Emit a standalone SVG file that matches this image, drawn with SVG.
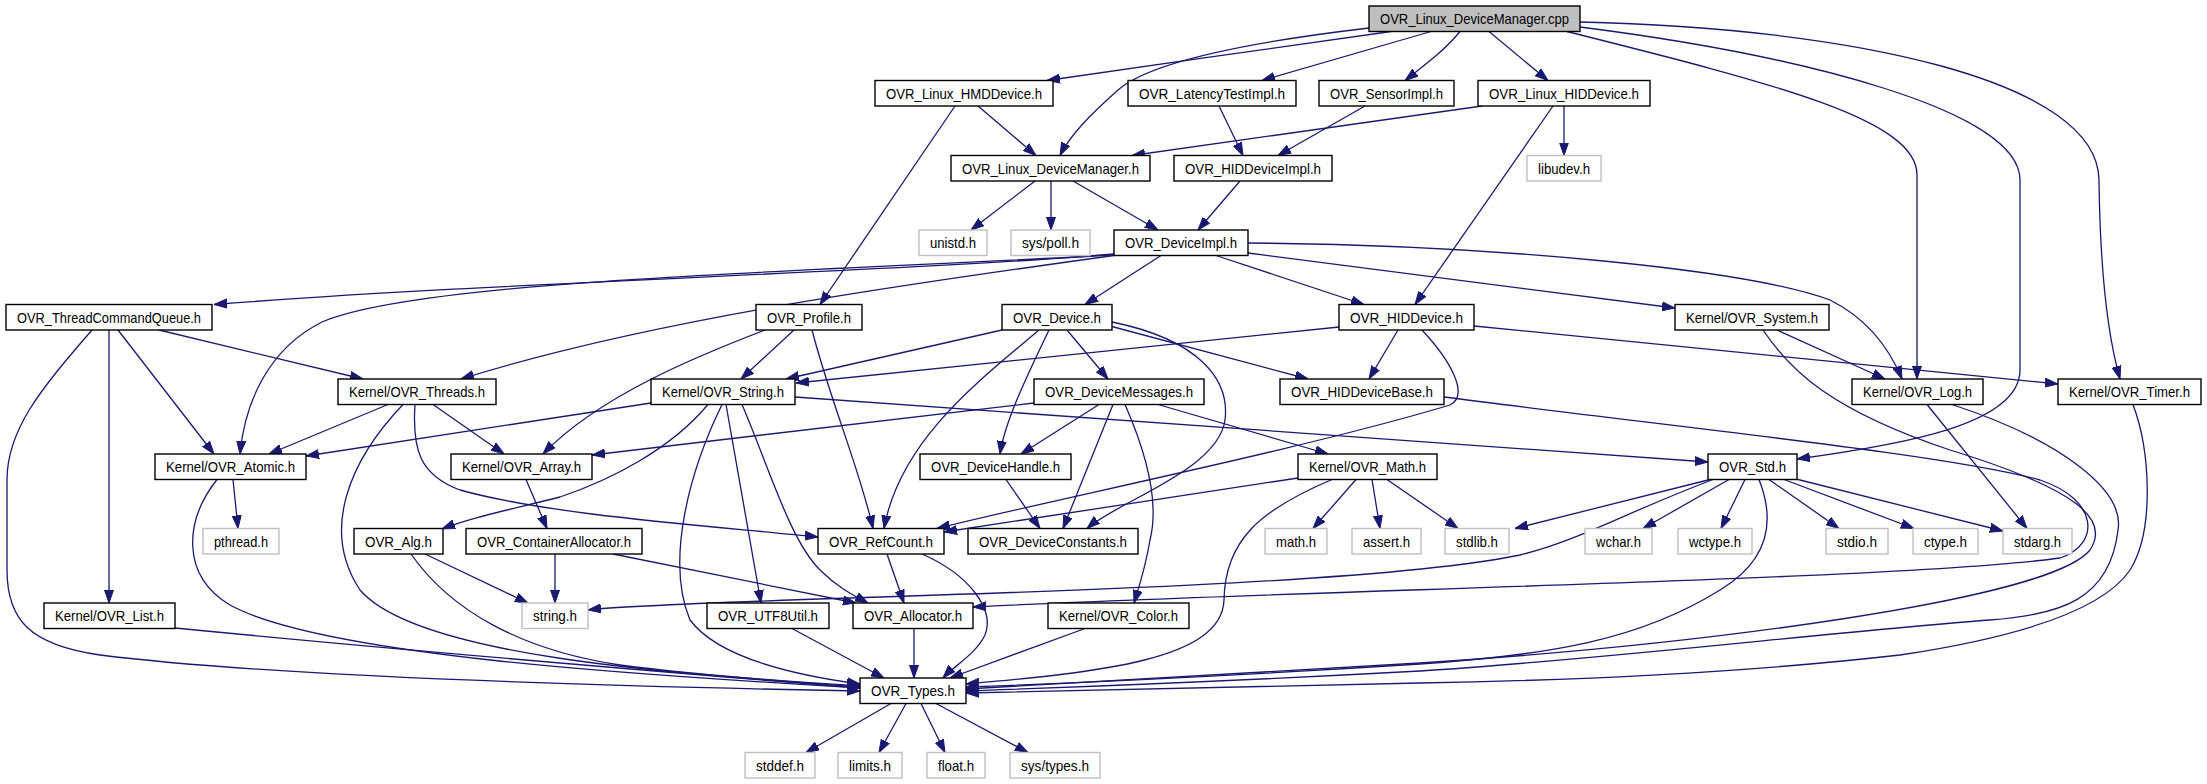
<svg xmlns="http://www.w3.org/2000/svg" width="2207" height="784" viewBox="0 0 2207 784">
<style>
.n rect{fill:#fff;stroke:#000;stroke-width:1.4}
.g rect{fill:#fff;stroke:#bfbfbf;stroke-width:1.4}
.r rect{fill:#bfbfbf;stroke:#000;stroke-width:1.4}
text{font-family:"Liberation Sans",Arial,sans-serif;font-size:15px;fill:#000;text-anchor:middle}
#edges path{fill:none;stroke:#191970;stroke-width:1.3;marker-end:url(#a)}
</style>
<defs>
<marker id="a" markerUnits="userSpaceOnUse" markerWidth="13" markerHeight="10" refX="13" refY="5" orient="auto" viewBox="0 0 13 10"><path d="M0,0.5 L13,5 L0,9.5 z" fill="#191970" stroke="#191970" stroke-width="1"/></marker>
</defs>
<rect width="2207" height="784" fill="#fff"/>
<g id="edges">
<path d="M1391,31.5 C1300,45 1150,65 1047,80.5"/>
<path d="M1369,28 C1250,42 1150,62 1118,90 C1090,115 1070,135 1060,155.5"/>
<path d="M1431,31.5 L1262,80.5"/>
<path d="M1460,31.5 C1445,50 1425,65 1405,80.5"/>
<path d="M1489,31.5 L1548,80.5"/>
<path d="M1567,31.5 C1780,85 1917,120 1917,175 L1917,379"/>
<path d="M1580,27 C1800,55 2020,110 2020,180 L2020,370 C2020,425 1900,445 1797,459"/>
<path d="M1580,22 C1850,28 2098,80 2099,180 C2100,260 2106,330 2120,379"/>
<path d="M978,106 L1036,155.5"/>
<path d="M955,106 L820,304.5"/>
<path d="M1219,106 L1243,155.5"/>
<path d="M1365,106 L1278,155.5"/>
<path d="M1482,106 L1132,155.5"/>
<path d="M1564,106 L1564,155.5"/>
<path d="M1553,106 L1415,304.5"/>
<path d="M1035,181 L971,230"/>
<path d="M1051,181 L1051,230"/>
<path d="M1073,181 L1158,230"/>
<path d="M1240,181 L1198,230"/>
<path d="M1114,254 C900,272 500,282 214,304.5"/>
<path d="M1114,255 C800,272 420,280 322,322 C270,348 245,400 240,454"/>
<path d="M1114,255.5 C900,285 650,320 461,379"/>
<path d="M1161,255.5 L1085,304.5"/>
<path d="M1216,255.5 L1364,304.5"/>
<path d="M1248,253 L1675,308"/>
<path d="M1248,243 C1500,245 1750,270 1830,300 C1870,320 1890,350 1902,379"/>
<path d="M794,330 L741,379"/>
<path d="M765,330 C700,355 600,395 543,454"/>
<path d="M812,330 C830,400 860,470 873,528.5"/>
<path d="M1002,330 L786,379"/>
<path d="M1067,330 L1108,379"/>
<path d="M1049,330 C1030,370 1005,420 1000,454"/>
<path d="M1039,330 C980,380 900,440 884,528.5"/>
<path d="M1110,326 L1308,379"/>
<path d="M1112,322 C1200,340 1230,380 1225,420 C1218,470 1120,500 1087,528.5"/>
<path d="M1339,327 L796,383"/>
<path d="M1398,330 L1369,379"/>
<path d="M1422,330 C1450,360 1470,395 1450,405 C1300,450 1050,500 937,528.5"/>
<path d="M1474,326 L2058,384"/>
<path d="M1777,330 L1885,379"/>
<path d="M1763,330 C1790,370 1830,410 1950,450 C2080,490 2110,520 2090,550 C2050,600 1700,645 1420,663 C1200,677 1050,685 966,689"/>
<path d="M1927,404.5 L2027,528.5"/>
<path d="M1952,404.5 C2060,440 2125,490 2118,530 C2110,600 2060,615 1990,620 C1850,630 1600,660 1420,671 C1200,683 1050,688 966,691"/>
<path d="M2133,404.5 C2150,450 2155,530 2130,570 C2100,615 2000,640 1900,655 C1750,672 1600,680 1420,683 C1200,688 1050,691 966,693"/>
<path d="M1710,479.5 L1515,528.5"/>
<path d="M1713,479.5 C1620,515 1580,540 1520,555 C1400,580 1100,590 850,598 C700,603 620,606 588,610"/>
<path d="M1729,479.5 L1643,528.5"/>
<path d="M1745,479.5 L1721,528.5"/>
<path d="M1759,479.5 C1775,520 1770,560 1720,590 C1640,640 1550,655 1420,664 C1200,678 1050,684 966,687"/>
<path d="M1769,479.5 L1839,528.5"/>
<path d="M1784,479.5 L1914,528.5"/>
<path d="M1796,479 L2003,531"/>
<path d="M1444,397 C1700,430 1950,455 2040,480 C2100,500 2100,545 2060,558 C1900,580 1300,590 973,607"/>
<path d="M1298,478 L944,532"/>
<path d="M1332,479.5 C1260,510 1225,540 1224,600 C1222,660 1100,672 966,684"/>
<path d="M1356,479.5 L1313,528.5"/>
<path d="M1372,479.5 L1380,528.5"/>
<path d="M1387,479.5 L1458,528.5"/>
<path d="M1034,403 L592,455"/>
<path d="M1099,404.5 L1021,454"/>
<path d="M1113,404.5 L1063,528.5"/>
<path d="M1125,404.5 C1145,450 1160,500 1150,540 C1145,570 1138,590 1134,603"/>
<path d="M1158,404.5 L1328,454"/>
<path d="M1006,479.5 L1040,528.5"/>
<path d="M651,403 L306,456"/>
<path d="M708,404.5 C670,450 610,480 560,497 C500,512 470,518 442,529"/>
<path d="M722,404.5 C690,470 665,560 690,620 C720,660 800,676 860,684"/>
<path d="M726,404.5 L761,603"/>
<path d="M742,404.5 C770,470 790,540 820,570 C838,588 855,596 868,603"/>
<path d="M795,397 L1708,462"/>
<path d="M388,404.5 L269,454"/>
<path d="M433,404.5 L504,454"/>
<path d="M403,404.5 C350,460 320,530 360,590 C420,660 700,675 860,686"/>
<path d="M415,404.5 C412,450 420,475 460,490 C550,515 700,525 818,537"/>
<path d="M613,554 L856,603"/>
<path d="M555,554 L555,603"/>
<path d="M526,479.5 L547,528.5"/>
<path d="M425,554 L528,603"/>
<path d="M411,554 C450,610 520,650 620,665 C720,678 800,682 860,687"/>
<path d="M233,479.5 L238,528.5"/>
<path d="M217,479.5 C185,520 180,575 230,605 C330,660 700,678 860,688"/>
<path d="M159,330 L363,379"/>
<path d="M118,330 L214,454"/>
<path d="M109,330 L109,603"/>
<path d="M92,330 C40,390 7,430 7,480 L7,570 C7,620 30,645 100,655 C300,680 700,688 860,691"/>
<path d="M175,628 C400,650 700,675 860,688"/>
<path d="M887,554 L904,603"/>
<path d="M922,554 C970,575 995,610 985,635 C975,655 955,665 943,678"/>
<path d="M914,628.5 L914,678"/>
<path d="M792,628.5 L884,678"/>
<path d="M1085,628.5 L950,678"/>
<path d="M891,703.5 L806,752.5"/>
<path d="M906,703.5 L879,752.5"/>
<path d="M921,703.5 L945,752.5"/>
<path d="M936,703.5 L1028,752.5"/>
</g>
<g id="root" class="r"><rect x="1369" y="6" width="211" height="25.5"/><text x="1474.5" y="24" textLength="189" lengthAdjust="spacingAndGlyphs">OVR_Linux_DeviceManager.cpp</text></g>
<g id="hmd" class="n"><rect x="875" y="80.5" width="178" height="25.5"/><text x="964" y="98.5" textLength="156" lengthAdjust="spacingAndGlyphs">OVR_Linux_HMDDevice.h</text></g>
<g id="lat" class="n"><rect x="1128" y="80.5" width="168" height="25.5"/><text x="1212" y="98.5" textLength="146" lengthAdjust="spacingAndGlyphs">OVR_LatencyTestImpl.h</text></g>
<g id="sensor" class="n"><rect x="1319" y="80.5" width="135" height="25.5"/><text x="1386.5" y="98.5" textLength="113" lengthAdjust="spacingAndGlyphs">OVR_SensorImpl.h</text></g>
<g id="lhid" class="n"><rect x="1478" y="80.5" width="172" height="25.5"/><text x="1564" y="98.5" textLength="150" lengthAdjust="spacingAndGlyphs">OVR_Linux_HIDDevice.h</text></g>
<g id="ldm" class="n"><rect x="951" y="155.5" width="199" height="25.5"/><text x="1050.5" y="173.5" textLength="177" lengthAdjust="spacingAndGlyphs">OVR_Linux_DeviceManager.h</text></g>
<g id="hidimpl" class="n"><rect x="1174" y="155.5" width="158" height="25.5"/><text x="1253" y="173.5" textLength="136" lengthAdjust="spacingAndGlyphs">OVR_HIDDeviceImpl.h</text></g>
<g id="libudev" class="g"><rect x="1527" y="155.5" width="74" height="25.5"/><text x="1564" y="173.5" textLength="52" lengthAdjust="spacingAndGlyphs">libudev.h</text></g>
<g id="unistd" class="g"><rect x="919" y="230" width="68" height="25.5"/><text x="953" y="248" textLength="46" lengthAdjust="spacingAndGlyphs">unistd.h</text></g>
<g id="poll" class="g"><rect x="1011" y="230" width="79" height="25.5"/><text x="1050.5" y="248" textLength="57" lengthAdjust="spacingAndGlyphs">sys/poll.h</text></g>
<g id="devimpl" class="n"><rect x="1114" y="230" width="134" height="25.5"/><text x="1181" y="248" textLength="112" lengthAdjust="spacingAndGlyphs">OVR_DeviceImpl.h</text></g>
<g id="tcq" class="n"><rect x="6" y="304.5" width="206" height="25.5"/><text x="109" y="322.5" textLength="184" lengthAdjust="spacingAndGlyphs">OVR_ThreadCommandQueue.h</text></g>
<g id="profile" class="n"><rect x="756" y="304.5" width="106" height="25.5"/><text x="809" y="322.5" textLength="84" lengthAdjust="spacingAndGlyphs">OVR_Profile.h</text></g>
<g id="device" class="n"><rect x="1002" y="304.5" width="110" height="25.5"/><text x="1057" y="322.5" textLength="88" lengthAdjust="spacingAndGlyphs">OVR_Device.h</text></g>
<g id="hiddev" class="n"><rect x="1339" y="304.5" width="135" height="25.5"/><text x="1406.5" y="322.5" textLength="113" lengthAdjust="spacingAndGlyphs">OVR_HIDDevice.h</text></g>
<g id="system" class="n"><rect x="1675" y="304.5" width="154" height="25.5"/><text x="1752" y="322.5" textLength="132" lengthAdjust="spacingAndGlyphs">Kernel/OVR_System.h</text></g>
<g id="threads" class="n"><rect x="338" y="379" width="158" height="25.5"/><text x="417" y="397" textLength="136" lengthAdjust="spacingAndGlyphs">Kernel/OVR_Threads.h</text></g>
<g id="string" class="n"><rect x="651" y="379" width="144" height="25.5"/><text x="723" y="397" textLength="122" lengthAdjust="spacingAndGlyphs">Kernel/OVR_String.h</text></g>
<g id="devmsg" class="n"><rect x="1034" y="379" width="170" height="25.5"/><text x="1119" y="397" textLength="148" lengthAdjust="spacingAndGlyphs">OVR_DeviceMessages.h</text></g>
<g id="hidbase" class="n"><rect x="1280" y="379" width="164" height="25.5"/><text x="1362" y="397" textLength="142" lengthAdjust="spacingAndGlyphs">OVR_HIDDeviceBase.h</text></g>
<g id="log" class="n"><rect x="1852" y="379" width="131" height="25.5"/><text x="1917.5" y="397" textLength="109" lengthAdjust="spacingAndGlyphs">Kernel/OVR_Log.h</text></g>
<g id="timer" class="n"><rect x="2058" y="379" width="143" height="25.5"/><text x="2129.5" y="397" textLength="121" lengthAdjust="spacingAndGlyphs">Kernel/OVR_Timer.h</text></g>
<g id="atomic" class="n"><rect x="155" y="454" width="151" height="25.5"/><text x="230.5" y="472" textLength="129" lengthAdjust="spacingAndGlyphs">Kernel/OVR_Atomic.h</text></g>
<g id="array" class="n"><rect x="451" y="454" width="141" height="25.5"/><text x="521.5" y="472" textLength="119" lengthAdjust="spacingAndGlyphs">Kernel/OVR_Array.h</text></g>
<g id="devhandle" class="n"><rect x="920" y="454" width="151" height="25.5"/><text x="995.5" y="472" textLength="129" lengthAdjust="spacingAndGlyphs">OVR_DeviceHandle.h</text></g>
<g id="math" class="n"><rect x="1298" y="454" width="139" height="25.5"/><text x="1367.5" y="472" textLength="117" lengthAdjust="spacingAndGlyphs">Kernel/OVR_Math.h</text></g>
<g id="std" class="n"><rect x="1708" y="454" width="89" height="25.5"/><text x="1752.5" y="472" textLength="67" lengthAdjust="spacingAndGlyphs">OVR_Std.h</text></g>
<g id="pthread" class="g"><rect x="203" y="528.5" width="76" height="25.5"/><text x="241" y="546.5" textLength="54" lengthAdjust="spacingAndGlyphs">pthread.h</text></g>
<g id="alg" class="n"><rect x="354" y="528.5" width="89" height="25.5"/><text x="398.5" y="546.5" textLength="67" lengthAdjust="spacingAndGlyphs">OVR_Alg.h</text></g>
<g id="contalloc" class="n"><rect x="466" y="528.5" width="176" height="25.5"/><text x="554" y="546.5" textLength="154" lengthAdjust="spacingAndGlyphs">OVR_ContainerAllocator.h</text></g>
<g id="refcount" class="n"><rect x="818" y="528.5" width="126" height="25.5"/><text x="881" y="546.5" textLength="104" lengthAdjust="spacingAndGlyphs">OVR_RefCount.h</text></g>
<g id="devconst" class="n"><rect x="968" y="528.5" width="170" height="25.5"/><text x="1053" y="546.5" textLength="148" lengthAdjust="spacingAndGlyphs">OVR_DeviceConstants.h</text></g>
<g id="mathh" class="g"><rect x="1265" y="528.5" width="62" height="25.5"/><text x="1296" y="546.5" textLength="40" lengthAdjust="spacingAndGlyphs">math.h</text></g>
<g id="asserth" class="g"><rect x="1352" y="528.5" width="69" height="25.5"/><text x="1386.5" y="546.5" textLength="47" lengthAdjust="spacingAndGlyphs">assert.h</text></g>
<g id="stdlib" class="g"><rect x="1445" y="528.5" width="64" height="25.5"/><text x="1477" y="546.5" textLength="42" lengthAdjust="spacingAndGlyphs">stdlib.h</text></g>
<g id="wchar" class="g"><rect x="1585" y="528.5" width="67" height="25.5"/><text x="1618.5" y="546.5" textLength="45" lengthAdjust="spacingAndGlyphs">wchar.h</text></g>
<g id="wctype" class="g"><rect x="1678" y="528.5" width="74" height="25.5"/><text x="1715" y="546.5" textLength="52" lengthAdjust="spacingAndGlyphs">wctype.h</text></g>
<g id="stdio" class="g"><rect x="1826" y="528.5" width="62" height="25.5"/><text x="1857" y="546.5" textLength="40" lengthAdjust="spacingAndGlyphs">stdio.h</text></g>
<g id="ctype" class="g"><rect x="1913" y="528.5" width="65" height="25.5"/><text x="1945.5" y="546.5" textLength="43" lengthAdjust="spacingAndGlyphs">ctype.h</text></g>
<g id="stdarg" class="g"><rect x="2003" y="528.5" width="69" height="25.5"/><text x="2037.5" y="546.5" textLength="47" lengthAdjust="spacingAndGlyphs">stdarg.h</text></g>
<g id="list" class="n"><rect x="44" y="603" width="131" height="25.5"/><text x="109.5" y="621" textLength="109" lengthAdjust="spacingAndGlyphs">Kernel/OVR_List.h</text></g>
<g id="stringh" class="g"><rect x="522" y="603" width="66" height="25.5"/><text x="555" y="621" textLength="44" lengthAdjust="spacingAndGlyphs">string.h</text></g>
<g id="utf8" class="n"><rect x="707" y="603" width="122" height="25.5"/><text x="768" y="621" textLength="100" lengthAdjust="spacingAndGlyphs">OVR_UTF8Util.h</text></g>
<g id="alloc" class="n"><rect x="853" y="603" width="120" height="25.5"/><text x="913" y="621" textLength="98" lengthAdjust="spacingAndGlyphs">OVR_Allocator.h</text></g>
<g id="color" class="n"><rect x="1048" y="603" width="141" height="25.5"/><text x="1118.5" y="621" textLength="119" lengthAdjust="spacingAndGlyphs">Kernel/OVR_Color.h</text></g>
<g id="types" class="n"><rect x="860" y="678" width="106" height="25.5"/><text x="913" y="696" textLength="84" lengthAdjust="spacingAndGlyphs">OVR_Types.h</text></g>
<g id="stddef" class="g"><rect x="745" y="752.5" width="70" height="25.5"/><text x="780" y="770.5" textLength="48" lengthAdjust="spacingAndGlyphs">stddef.h</text></g>
<g id="limits" class="g"><rect x="838" y="752.5" width="64" height="25.5"/><text x="870" y="770.5" textLength="42" lengthAdjust="spacingAndGlyphs">limits.h</text></g>
<g id="float" class="g"><rect x="927" y="752.5" width="58" height="25.5"/><text x="956" y="770.5" textLength="36" lengthAdjust="spacingAndGlyphs">float.h</text></g>
<g id="systypes" class="g"><rect x="1010" y="752.5" width="90" height="25.5"/><text x="1055" y="770.5" textLength="68" lengthAdjust="spacingAndGlyphs">sys/types.h</text></g>
</svg>
